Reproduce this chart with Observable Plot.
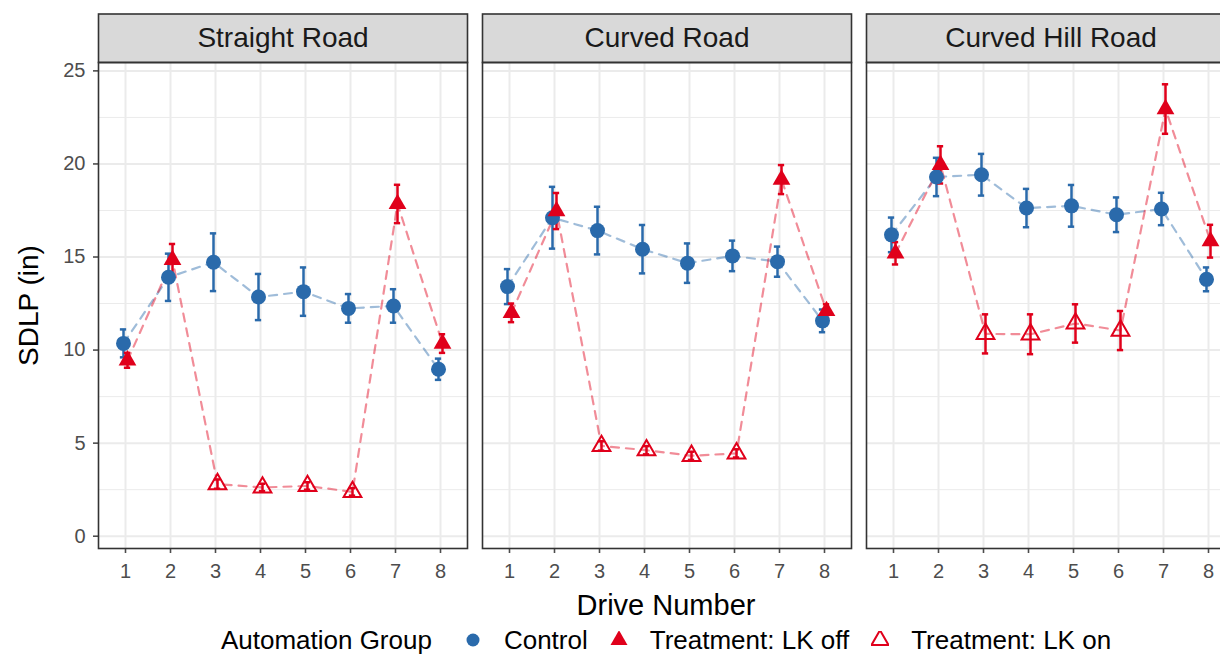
<!DOCTYPE html>
<html>
<head>
<meta charset="utf-8">
<script src="https://cdn.jsdelivr.net/npm/d3@7"></script>
<script src="https://cdn.jsdelivr.net/npm/@observablehq/plot@0.6"></script>
<style>
  html, body { margin: 0; padding: 0; overflow: hidden; background: #fff; }
  #wrap { position: relative; width: 1340px; height: 655px; font-family: "Liberation Sans", Arial, Helvetica, sans-serif; }
  #chart { position: absolute; left: 0; top: 0; }
  #xtitle { position: absolute; left: 0; width: 1332px; top: 591px; text-align: center; font-size: 29px; line-height: 29px; color: #000; }
  #legend { position: absolute; left: 0; width: 1332px; top: 627px; height: 26px; display: flex; justify-content: center; align-items: center; font-size: 26px; line-height: 26px; color: #000; }
  #legend span { white-space: pre; }
  #legend svg { display: block; }
  #chart g[aria-label="x-axis tick"], #chart g[aria-label="y-axis tick"] { stroke: #333333; stroke-width: 1.6px; }
  #chart g[aria-label="y-axis label"] { font-size: 28px; fill: #000; }
</style>
</head>
<body>
<div id="wrap">
  <div id="chart"></div>
  <div id="xtitle">Drive Number</div>
  <div id="legend"></div>
</div>
<script>
// ---------- data ----------
const roads = ["Straight Road", "Curved Road", "Curved Hill Road"];
const drives = [1, 2, 3, 4, 5, 6, 7, 8];
const lkStatus = ["off", "off", "on", "on", "on", "on", "off", "off"];
const groups = ["Control", "Treatment: LK off", "Treatment: LK on"];

const controlStraight   = [10.36, 13.91, 14.72, 12.85, 13.14, 12.24, 12.37, 8.97];
const controlStraightSE = [0.75, 1.27, 1.55, 1.24, 1.30, 0.77, 0.90, 0.57];
const controlCurved     = [13.41, 17.11, 16.42, 15.42, 14.67, 15.06, 14.75, 11.57];
const controlCurvedSE   = [0.94, 1.66, 1.28, 1.30, 1.06, 0.82, 0.81, 0.61];
const controlHill       = [16.19, 19.30, 19.42, 17.63, 17.75, 17.27, 17.58, 13.80];
const controlHillSE     = [0.93, 1.03, 1.12, 1.03, 1.12, 0.93, 0.87, 0.64];

const treatStraight   = [9.45, 14.85, 2.80, 2.62, 2.70, 2.38, 17.85, 10.35];
const treatStraightSE = [0.40, 0.85, 0.25, 0.20, 0.20, 0.20, 1.03, 0.50];
const treatCurved     = [12.00, 17.47, 4.85, 4.62, 4.32, 4.45, 19.16, 12.10];
const treatCurvedSE   = [0.50, 0.97, 0.25, 0.22, 0.22, 0.22, 0.78, 0.36];
const treatHill       = [15.20, 19.95, 10.87, 10.85, 11.43, 11.05, 22.95, 15.85];
const treatHillSE     = [0.60, 1.00, 1.05, 1.07, 1.03, 1.05, 1.33, 0.88];

const yTicks = [0, 5, 10, 15, 20, 25];
const yMinorTicks = [2.5, 7.5, 12.5, 17.5, 22.5];

// ---------- styling / layout ----------
const blue = "#2A6AAB";
const red = "#E0001B";
const xDomain = [0.4, 8.6];
const yDomain = [-0.66, 25.45];
const W = 1235, H = 590, MT = 62, MB = 42, ML = 97, MR = 0;
const stripTop = 13.5;
const panelH = H - MT - MB;
const capHalf = 0.07;

// ---------- build tables ----------
const controlMeans = [controlStraight, controlCurved, controlHill];
const controlSEs = [controlStraightSE, controlCurvedSE, controlHillSE];
const treatMeans = [treatStraight, treatCurved, treatHill];
const treatSEs = [treatStraightSE, treatCurvedSE, treatHillSE];

const control = [], treat = [];
roads.forEach((road, i) => {
  drives.forEach((drive, j) => {
    control.push({road, drive, mean: controlMeans[i][j], se: controlSEs[i][j], group: groups[0]});
    treat.push({road, drive, mean: treatMeans[i][j], se: treatSEs[i][j],
                group: lkStatus[j] === "off" ? groups[1] : groups[2]});
  });
});
const lkOff = treat.filter(d => d.group === groups[1]);
const lkOn = treat.filter(d => d.group === groups[2]);

function errorBars(data, color, dx) {
  return [
    Plot.ruleX(data, {fx: "road", x: "drive", y1: d => d.mean - d.se, y2: d => d.mean + d.se, stroke: color, strokeWidth: 2.5, dx}),
    Plot.ruleY(data, {fx: "road", y: d => d.mean + d.se, x1: d => d.drive - capHalf, x2: d => d.drive + capHalf, stroke: color, strokeWidth: 2.5, dx}),
    Plot.ruleY(data, {fx: "road", y: d => d.mean - d.se, x1: d => d.drive - capHalf, x2: d => d.drive + capHalf, stroke: color, strokeWidth: 2.5, dx})
  ];
}

const plot = Plot.plot({
  width: W, height: H,
  marginTop: MT, marginBottom: MB, marginLeft: ML, marginRight: MR,
  style: {fontFamily: '"Liberation Sans", Arial, Helvetica, sans-serif', fontSize: "20px", color: "#4D4D4D", background: "transparent", overflow: "visible"},
  fx: {domain: roads, paddingInner: 0.04, paddingOuter: 0, axis: null, label: null},
  x: {domain: xDomain},
  y: {domain: yDomain},
  marks: [
    Plot.gridY(yMinorTicks, {stroke: "#EBEBEB", strokeOpacity: 1, strokeWidth: 1}),
    Plot.gridY(yTicks, {stroke: "#EBEBEB", strokeOpacity: 1, strokeWidth: 2}),
    Plot.gridX(drives, {stroke: "#EBEBEB", strokeOpacity: 1, strokeWidth: 2}),
    Plot.frame({fill: "#D9D9D9", stroke: "#333333", strokeWidth: 1.6, insetTop: -(MT - stripTop), insetBottom: panelH}),
    Plot.text(roads, {fx: d => d, text: d => d, frameAnchor: "top", dy: -(MT - stripTop) / 2, lineAnchor: "middle", fontSize: 28, fill: "#1A1A1A"}),
    Plot.axisY(yTicks, {tickSize: 5, tickPadding: 8, fontSize: 20, label: "SDLP (in)", labelAnchor: "center", labelArrow: "none", labelOffset: 80}),
    Plot.axisX(drives, {tickSize: 5, tickPadding: 10, fontSize: 20, label: null}),
    Plot.line(control, {fx: "road", x: "drive", y: "mean", stroke: blue, strokeOpacity: 0.45, strokeWidth: 2.2, strokeDasharray: "8,7", dx: -2}),
    Plot.line(treat, {fx: "road", x: "drive", y: "mean", stroke: red, strokeOpacity: 0.45, strokeWidth: 2.2, strokeDasharray: "8,7", dx: 2}),
    ...errorBars(control, blue, -2),
    ...errorBars(treat, red, 2),
    Plot.dot(control, {fx: "road", x: "drive", y: "mean", r: 7.5, fill: blue, symbol: "circle", dx: -2}),
    Plot.dot(lkOff, {fx: "road", x: "drive", y: "mean", r: 6.6, fill: red, symbol: "triangle", dx: 2}),
    Plot.dot(lkOn, {fx: "road", x: "drive", y: "mean", r: 6.6, fill: "none", stroke: red, strokeWidth: 2, symbol: "triangle", dx: 2}),
    Plot.frame({stroke: "#333333", strokeWidth: 1.6})
  ]
});
document.getElementById("chart").appendChild(plot);

// ---------- legend ----------
const legend = d3.select("#legend");
legend.append("span").text("Automation Group").style("margin-right", "32px");
const legendItems = [
  {label: groups[0], symbol: d3.symbolCircle, size: Math.PI * 6.5 * 6.5, fill: blue, stroke: "none"},
  {label: groups[1], symbol: d3.symbolTriangle, size: Math.PI * 6.3 * 6.3, fill: red, stroke: "none"},
  {label: groups[2], symbol: d3.symbolTriangle, size: Math.PI * 6.3 * 6.3, fill: "none", stroke: red}
];
legendItems.forEach((it, i) => {
  const s = legend.append("svg").attr("width", 18).attr("height", 18).attr("viewBox", "-9 -9 18 18");
  s.append("path").attr("d", d3.symbol(it.symbol, it.size)()).attr("fill", it.fill).attr("stroke", it.stroke).attr("stroke-width", 2);
  legend.append("span").text(it.label).style("margin-left", "22px").style("margin-right", i < legendItems.length - 1 ? "22px" : "0px");
});
</script>
</body>
</html>
